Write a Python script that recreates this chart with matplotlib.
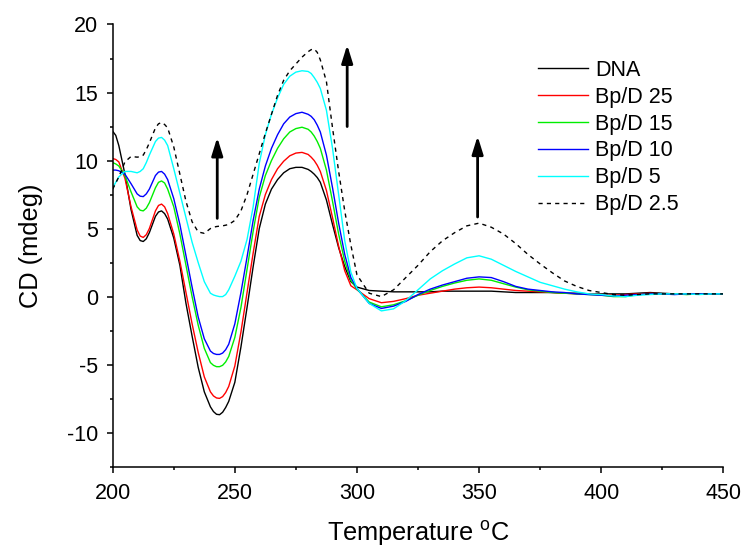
import matplotlib
matplotlib.use("Agg")
import matplotlib.pyplot as plt
from matplotlib.ticker import MultipleLocator

plt.rcParams['font.family'] = ['Liberation Sans', 'DejaVu Sans']
plt.rcParams['mathtext.fontset'] = 'custom'
plt.rcParams['mathtext.rm'] = 'Liberation Sans'
plt.rcParams['axes.unicode_minus'] = False

# ---- data ----
wavelength = [200, 201.25, 202.5, 205, 207.5, 210, 211.25, 212.5, 213.75, 215, 217.5, 218.75, 220, 221.25, 222.5,
              225, 227.5, 230, 232.5, 235, 237.5, 240, 241.25, 242.5, 243.75, 245, 246.25, 247.5,
              250, 252.5, 255, 257.5, 260, 262.5, 265, 267.5, 270, 272.5,
              275, 277.5, 280, 281.25, 282.5, 283.75, 285, 287.5, 290, 292.5, 295, 297.5,
              300,
              305, 310, 315, 320, 325, 330, 335, 340, 345, 350,
              355, 360, 365, 370, 375, 380, 385, 390, 395, 400,
              405, 410, 415, 420, 425, 430, 435, 440, 445, 450]

dna = [12.15, 11.85, 11.1, 9.0, 6.4, 4.5, 4.12, 4.05, 4.25, 4.7, 5.9, 6.22, 6.3, 6.1, 5.7,
       4.3, 2.3, -0.5, -2.9, -5.2, -7.0, -8.1, -8.45, -8.65, -8.68, -8.5, -8.15, -7.7,
       -6.3, -3.7, -0.8, 2.2, 5.0, 6.8, 7.9, 8.6, 9.1, 9.4,
       9.5, 9.5, 9.35, 9.2, 9.0, 8.75, 8.4, 7.1, 5.3, 3.6, 2.2, 1.1,
       0.7,
       0.45, 0.4, 0.35, 0.35, 0.35, 0.35, 0.4, 0.4, 0.4, 0.4,
       0.4, 0.35, 0.3, 0.3, 0.3, 0.3, 0.25, 0.25, 0.2, 0.2,
       0.2, 0.2, 0.25, 0.3, 0.25, 0.2, 0.2, 0.2, 0.2, 0.2]

bpd25 = [10.15, 10.08, 9.9, 8.7, 6.6, 4.9, 4.45, 4.35, 4.55, 5.0, 6.3, 6.7, 6.8, 6.6, 6.1,
         4.6, 2.6, 0.3, -2.0, -4.1, -5.9, -7.0, -7.3, -7.45, -7.48, -7.35, -7.05, -6.6,
         -5.1, -2.6, 0.3, 3.2, 5.9, 7.5, 8.6, 9.4, 9.95, 10.35,
         10.55, 10.6, 10.45, 10.25, 10.0, 9.65, 9.2, 7.8, 5.8, 3.7, 1.9, 0.8,
         0.5,
         -0.15, -0.45, -0.35, -0.15, 0.1, 0.25, 0.4, 0.55, 0.65, 0.7,
         0.65, 0.55, 0.45, 0.4, 0.35, 0.3, 0.25, 0.2, 0.2, 0.15,
         0.1, 0.15, 0.2, 0.25, 0.2, 0.2, 0.2, 0.2, 0.2, 0.2]

bpd15 = [9.85, 9.75, 9.6, 8.9, 7.7, 6.6, 6.35, 6.3, 6.5, 6.9, 8.0, 8.4, 8.5, 8.35, 7.9,
         6.6, 4.6, 2.3, 0.0, -2.1, -3.8, -4.85, -5.05, -5.15, -5.15, -5.05, -4.8, -4.4,
         -3.0, -0.8, 2.0, 4.8, 7.3, 8.9, 10.0, 10.9, 11.6, 12.1,
         12.35, 12.45, 12.3, 12.1, 11.8, 11.4, 10.9, 9.3, 7.0, 4.6, 2.6, 1.2,
         0.55,
         -0.4, -0.75, -0.6, -0.3, 0.1, 0.45, 0.75, 1.0, 1.2, 1.3,
         1.2, 0.95, 0.7, 0.5, 0.4, 0.3, 0.25, 0.2, 0.15, 0.1,
         0.0, 0.0, 0.15, 0.2, 0.2, 0.2, 0.15, 0.2, 0.2, 0.2]

bpd10 = [9.3, 9.3, 9.25, 9.0, 8.3, 7.55, 7.38, 7.35, 7.55, 7.9, 8.9, 9.15, 9.2, 9.0, 8.6,
         7.2, 5.3, 3.0, 0.7, -1.5, -3.1, -4.0, -4.18, -4.25, -4.25, -4.15, -3.9, -3.5,
         -2.0, 0.3, 2.9, 5.6, 7.9, 9.6, 10.9, 11.9, 12.7, 13.2,
         13.45, 13.55, 13.4, 13.25, 13.0, 12.6, 12.1, 10.4, 8.0, 5.4, 3.1, 1.4,
         0.6,
         -0.5, -0.87, -0.7, -0.35, 0.15, 0.55, 0.85, 1.1, 1.35, 1.45,
         1.4, 1.1, 0.75, 0.55, 0.45, 0.35, 0.3, 0.2, 0.15, 0.1,
         0.05, 0.1, 0.15, 0.2, 0.2, 0.15, 0.2, 0.2, 0.2, 0.2]

bpd5 = [8.0, 8.4, 8.8, 9.2, 9.2, 9.1, 9.2, 9.4, 9.85, 10.4, 11.4, 11.65, 11.7, 11.5, 11.1,
        9.4, 7.6, 5.8, 4.0, 2.5, 1.1, 0.25, 0.12, 0.05, 0.0, 0.0, 0.15, 0.5,
        1.5, 2.6, 4.2, 6.6, 9.8, 11.9, 13.4, 14.6, 15.6, 16.2,
        16.5, 16.6, 16.55, 16.4, 16.1, 15.75, 15.3, 13.7, 10.9, 7.5, 4.1, 1.8,
        0.6,
        -0.5, -1.05, -0.9, -0.3, 0.5, 1.3, 1.9, 2.4, 2.85, 3.0,
        2.75, 2.3, 1.85, 1.45, 1.05, 0.8, 0.55, 0.35, 0.2, 0.15,
        0.05, 0.0, 0.1, 0.15, 0.2, 0.2, 0.2, 0.15, 0.2, 0.2]

bpd2_5 = [7.9, 8.35, 8.8, 9.9, 10.3, 10.25, 10.28, 10.4, 10.8, 11.3, 12.4, 12.7, 12.8, 12.65, 12.4,
          11.0, 9.0, 7.0, 5.5, 4.75, 4.65, 5.0, 5.1, 5.15, 5.18, 5.2, 5.25, 5.3,
          5.6, 6.3, 7.5, 9.0, 10.5, 12.0, 13.4, 14.8, 15.9, 16.6,
          17.1, 17.6, 18.0, 18.15, 18.2, 17.95, 17.4, 15.8, 12.4, 9.2, 6.3, 3.8,
          1.6,
          0.25, 0.0, 0.5, 1.4, 2.3, 3.3, 4.1, 4.7, 5.2, 5.4,
          5.1, 4.6, 3.9, 3.1, 2.4, 1.75, 1.15, 0.75, 0.45, 0.3,
          0.15, 0.1, 0.15, 0.2, 0.2, 0.2, 0.2, 0.2, 0.2, 0.2]

labels = ["DNA", "Bp/D 25", "Bp/D 15", "Bp/D 10", "Bp/D 5", "Bp/D 2.5"]
series = [dna, bpd25, bpd15, bpd10, bpd5, bpd2_5]
colors = ["#000000", "#ff0000", "#00ee00", "#0000ff", "#00ffff", "#000000"]

# arrows: (x, y_start, y_end)
arrows = [(242.8, 5.75, 11.7), (296.0, 12.5, 18.5), (349.4, 5.85, 11.8)]

# ---- figure ----
fig = plt.figure(figsize=(7.43, 5.48), dpi=100)
ax = fig.add_axes([0.1517, 0.1484, 0.8218, 0.8069])

for lab, ys, c in zip(labels, series, colors):
    if lab == "Bp/D 2.5":
        ax.plot(wavelength, ys, color=c, lw=1.0, dashes=(3, 3), label=lab)
    else:
        ax.plot(wavelength, ys, color=c, lw=1.0, label=lab)

for x, y0, y1 in arrows:
    ax.annotate('', xy=(x, y1), xytext=(x, y0),
                arrowprops=dict(arrowstyle='-|>,head_length=0.9,head_width=0.28',
                                lw=2.0, color='black', mutation_scale=12,
                                shrinkA=0, shrinkB=0))

ax.set_xlim(200, 450)
ax.set_ylim(-12.5, 20)
ax.xaxis.set_major_locator(MultipleLocator(50))
ax.xaxis.set_minor_locator(MultipleLocator(25))
ax.yaxis.set_major_locator(MultipleLocator(5))
ax.yaxis.set_minor_locator(MultipleLocator(2.5))

for s in ['top', 'right']:
    ax.spines[s].set_visible(False)
for s in ['left', 'bottom']:
    ax.spines[s].set_linewidth(1.1)

ax.tick_params(which='major', direction='out', length=4.5, width=1.1,
               labelsize=15.5, pad=6)
ax.tick_params(which='minor', direction='out', length=2.5, width=1.1)
ax.tick_params(axis='x', which='major', pad=7)

ax.set_xlabel('Temperature $^\\mathregular{o}$C', fontsize=18.3, labelpad=11)
ax.set_ylabel('CD (mdeg)', fontsize=18.3, labelpad=17)

leg = ax.legend(loc='upper left', bbox_to_anchor=(538 / 743, 1 - 60 / 548),
                bbox_transform=fig.transFigure, frameon=False, fontsize=15.5,
                handlelength=2.3, handletextpad=0.35, labelspacing=0.27,
                borderpad=0, borderaxespad=0)

fig.savefig("out.png", dpi=100)
